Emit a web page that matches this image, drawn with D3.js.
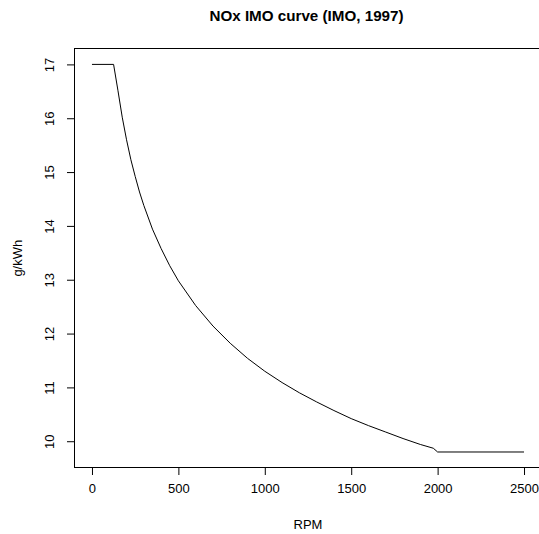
<!DOCTYPE html>
<html>
<head>
<meta charset="utf-8">
<script src="https://cdn.jsdelivr.net/npm/d3@7"></script>
<style>
  html, body { margin: 0; padding: 0; background: #fff; }
  svg { display: block; }
  text { font-family: "Liberation Sans", Arial, Helvetica, sans-serif; fill: #000; }
</style>
</head>
<body>
<svg id="chart" width="539" height="534"></svg>
<script>
// Data (IMO NOx limit curve)
const rpm = [0, 125, 150, 175, 200, 225, 250, 275, 300, 350, 400, 450, 500, 600, 700, 800, 900, 1000,
             1100, 1200, 1300, 1400, 1500, 1600, 1700, 1800, 1900, 1975, 2000, 2500];
const nox = [17, 17, 16.52, 16.02, 15.60, 15.23, 14.92, 14.63, 14.38, 13.94, 13.58, 13.26, 12.98, 12.52,
             12.14, 11.82, 11.54, 11.30, 11.09, 10.90, 10.73, 10.57, 10.42, 10.29, 10.17, 10.05, 9.94,
             9.87, 9.8, 9.8];
const xTicks = [0, 500, 1000, 1500, 2000, 2500];
const yTicks = [10, 11, 12, 13, 14, 15, 16, 17];
const title = "NOx IMO curve (IMO, 1997)";
const xLabel = "RPM";
const yLabel = "g/kWh";

(function () {
const svg = d3.select("#chart");

// R-style 4% extended ranges
const xMin = d3.min(rpm), xMax = d3.max(rpm);
const yMin = d3.min(nox), yMax = d3.max(nox);
const xPad = (xMax - xMin) * 0.04, yPad = (yMax - yMin) * 0.04;

const pL = 74.7, pR = 541.3, pT = 48.9, pB = 467.5;
const x = d3.scaleLinear().domain([xMin - xPad, xMax + xPad]).range([pL, pR]);
const y = d3.scaleLinear().domain([yMin - yPad, yMax + yPad]).range([pB, pT]);

const tickLen = 7.5;
const fs = 13;

// Box
svg.append("rect")
  .attr("x", 74.5).attr("y", 48.5)
  .attr("width", pR - 74.5).attr("height", 467.5 - 48.5)
  .attr("fill", "none").attr("stroke", "#000").attr("stroke-width", 1);

// X axis
const xAxis = d3.axisBottom(x).tickValues(xTicks).tickSize(tickLen).tickPadding(9).tickFormat(d3.format("d"));
const gx = svg.append("g").attr("transform", "translate(0,467.5)").call(xAxis);
gx.select(".domain").attr("d", `M${x(xTicks[0])},0H${x(xTicks[xTicks.length-1])}`);
gx.selectAll("text").style("font-size", fs + "px").style("font-family", "Liberation Sans, Arial, sans-serif");

// Y axis
const yAxis = d3.axisLeft(y).tickValues(yTicks).tickSize(tickLen).tickFormat(d3.format("d"));
const gy = svg.append("g").attr("transform", "translate(74.5,0)").call(yAxis);
gy.select(".domain").attr("d", `M0,${y(yTicks[0])}V${y(yTicks[yTicks.length-1])}`);
gy.selectAll(".tick text")
  .attr("x", null).attr("dy", null)
  .attr("text-anchor", "middle")
  .attr("transform", "translate(-21,0) rotate(-90)")
  .style("font-size", fs + "px").style("font-family", "Liberation Sans, Arial, sans-serif");

// Line
const line = d3.line().x((d, i) => x(rpm[i])).y((d, i) => y(nox[i]));
svg.append("path")
  .datum(nox)
  .attr("d", line)
  .attr("fill", "none")
  .attr("stroke", "#000")
  .attr("stroke-width", 1);

// Title
svg.append("text")
  .attr("x", 306.5).attr("y", 21)
  .attr("text-anchor", "middle")
  .style("font-size", "15.2px").style("font-weight", "bold")
  .text(title);

// X label
svg.append("text")
  .attr("x", (pL + pR) / 2).attr("y", 529)
  .attr("text-anchor", "middle")
  .style("font-size", fs + "px")
  .text(xLabel);

// Y label
svg.append("text")
  .attr("transform", `translate(21.5,${(pT + pB) / 2}) rotate(-90)`)
  .attr("text-anchor", "middle")
  .style("font-size", fs + "px")
  .text(yLabel);
})();
</script>
</body>
</html>
